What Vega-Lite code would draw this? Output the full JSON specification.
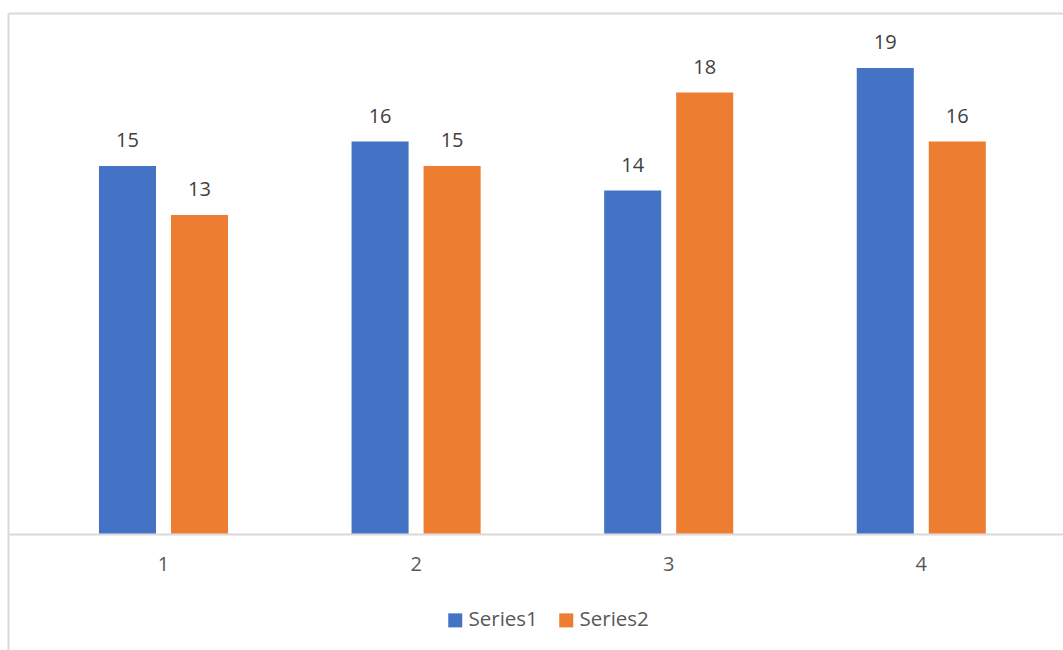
{
  "$schema": "https://vega.github.io/schema/vega-lite/v6.json",
  "autosize": {"type": "none"},
  "width": 1055,
  "height": 637,
  "padding": {"left": 8, "top": 13, "right": 0, "bottom": 0},
  "background": "white",
  "config": {"view": {"stroke": null}, "font": "Open Sans"},
  "data": {
    "values": [
      {"cat": "1", "series": "Series1", "value": 15},
      {"cat": "1", "series": "Series2", "value": 13},
      {"cat": "2", "series": "Series1", "value": 16},
      {"cat": "2", "series": "Series2", "value": 15},
      {"cat": "3", "series": "Series1", "value": 14},
      {"cat": "3", "series": "Series2", "value": 18},
      {"cat": "4", "series": "Series1", "value": 19},
      {"cat": "4", "series": "Series2", "value": 16}
    ]
  },
  "encoding": {
    "xOffset": {"field": "series", "type": "nominal", "scale": {"paddingInner": 0.208, "paddingOuter": 0}},
    "y": {
      "field": "value",
      "type": "quantitative",
      "scale": {"domain": [-4.755, 21.245], "nice": false, "zero": false},
      "axis": {"orient": "left", "labels": false, "ticks": false, "grid": false, "title": null, "domainColor": "#d9d9d9", "domainWidth": 2}
    }
  },
  "layer": [
    {
      "mark": {"type": "bar"},
      "encoding": {
        "x": {
          "field": "cat",
          "type": "nominal",
          "scale": {"paddingInner": 0.489, "paddingOuter": 0.3328, "align": 0.541},
          "axis": {"orient": "bottom", "offset": -116, "title": null, "labelAngle": 0, "labelFontSize": 20, "labelColor": "#595959", "ticks": false, "labelPadding": 20, "domainColor": "#d9d9d9", "domainWidth": 2}
        },
        "color": {
          "field": "series",
          "type": "nominal",
          "scale": {"domain": ["Series1", "Series2"], "range": ["#4472C4", "#ED7D31"]},
          "legend": {"orient": "none", "legendX": 437, "legendY": 597, "direction": "horizontal", "title": null, "symbolType": "square", "symbolSize": 196, "symbolStrokeWidth": 0, "labelFontSize": 20.5, "labelColor": "#595959", "labelOffset": 3, "columnPadding": 18}
        }
      }
    },
    {
      "mark": {"type": "text", "baseline": "alphabetic", "dy": -19, "fontSize": 20, "color": "#404040"},
      "encoding": {
        "x": {
          "field": "cat",
          "type": "nominal",
          "axis": {"orient": "top", "labels": false, "ticks": false, "title": null, "domainColor": "#d9d9d9", "domainWidth": 2}
        },
        "text": {"field": "value", "type": "quantitative"}
      }
    }
  ],
  "resolve": {"axis": {"x": "independent"}}
}
